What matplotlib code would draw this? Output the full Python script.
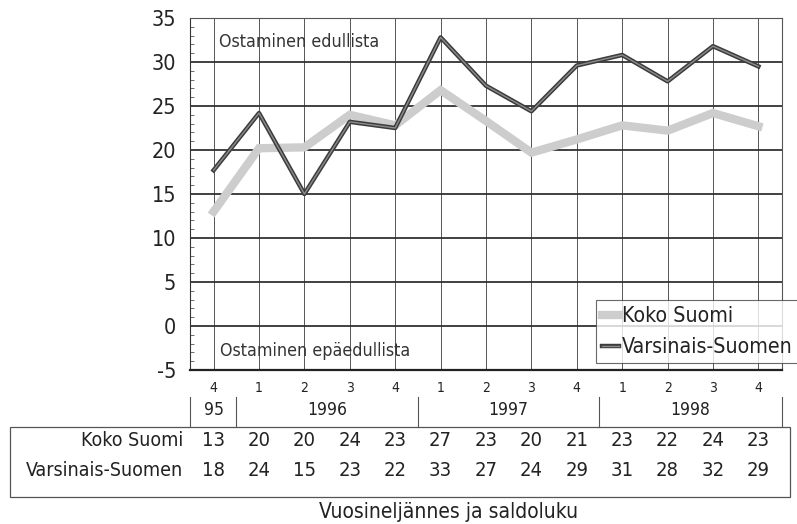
import matplotlib
matplotlib.use("Agg")
import matplotlib.pyplot as plt
import matplotlib.patheffects as pe
from matplotlib.transforms import blended_transform_factory
from matplotlib.patches import Rectangle
from matplotlib.lines import Line2D

plt.rcParams['font.family'] = ['DejaVu Sans']
plt.rcParams['font.stretch'] = 'condensed'

quarters = ["4", "1", "2", "3", "4", "1", "2", "3", "4", "1", "2", "3", "4"]
years = ["95", "1996", "1997", "1998"]
year_spans = [(0, 0), (1, 4), (5, 8), (9, 12)]
koko_plot = [13.0, 20.2, 20.3, 24.0, 22.8, 26.8, 23.3, 19.7, 21.2, 22.8, 22.2, 24.2, 22.7]
vars_plot = [17.7, 24.2, 15.0, 23.2, 22.5, 32.8, 27.3, 24.4, 29.6, 30.8, 27.8, 31.8, 29.5]
koko_table = [13, 20, 20, 24, 23, 27, 23, 20, 21, 23, 22, 24, 23]
vars_table = [18, 24, 15, 23, 22, 33, 27, 24, 29, 31, 28, 32, 29]
series_names = ["Koko Suomi", "Varsinais-Suomen"]
yticks = [-5, 0, 5, 10, 15, 20, 25, 30, 35]

W, H = 797, 524
fig = plt.figure(figsize=(W / 100, H / 100), dpi=100)

def fx(px):
    return px / W

def fy(py):
    return 1 - py / H

ax = fig.add_axes([fx(190), fy(370), fx(782) - fx(190), fy(18) - fy(370)])
x = list(range(len(quarters)))
ax.set_xlim(-0.52, 12.52)
ax.set_ylim(-5, 35)

for xi in x:
    ax.axvline(xi, color='#555555', lw=0.7, zorder=1)
for yv in yticks:
    ax.axhline(yv, color='#333333', lw=1.3, zorder=1)

l1, = ax.plot(x, koko_plot, color='#cdcdcd', lw=6, solid_joinstyle='miter', zorder=3,
              label=series_names[0])
l2, = ax.plot(x, vars_plot, color='#8c8c8c', lw=1.0, zorder=4, label=series_names[1],
              path_effects=[pe.Stroke(linewidth=3.2, foreground='#3c3c3c'), pe.Normal()])

ax.set_yticks(yticks)
ax.set_yticklabels([str(v) for v in yticks], fontsize=15.5)
ax.set_yticks(range(-5, 36), minor=True)
ax.tick_params(axis='y', which='major', length=0, pad=10, colors='#222222')
ax.tick_params(axis='y', which='minor', length=3, direction='in', color='#555555')
ax.set_xticks([])
for s in ['top', 'right']:
    ax.spines[s].set_color('#555555')
    ax.spines[s].set_linewidth(0.8)
ax.spines['left'].set_color('#333333')
ax.spines['bottom'].set_color('#222222')
ax.spines['bottom'].set_linewidth(1.6)

ax.text(0.12, 32.3, "Ostaminen edullista", fontsize=12.8, color='#333333',
        ha='left', va='center', zorder=5)
ax.text(0.15, -2.8, "Ostaminen epäedullista", fontsize=12.8, color='#333333',
        ha='left', va='center', zorder=5)

leg = fig.legend(handles=[l1, l2], loc='upper left', bbox_to_anchor=(fx(596), fy(300)),
                 frameon=True, fancybox=False, fontsize=15.3, handlelength=0.8,
                 handletextpad=0.1, borderpad=0.3, labelspacing=0.5, borderaxespad=0)
leg.get_frame().set_edgecolor('#444444')
leg.get_frame().set_linewidth(0.8)
for t in leg.get_texts():
    t.set_color('#222222')

tr = blended_transform_factory(ax.transData, fig.transFigure)
for xi, q in zip(x, quarters):
    ax.text(xi, fy(388), q, transform=tr, ha='center', va='center', fontsize=10, color='#222222')
for (a, b), yl in zip(year_spans, years):
    ax.text((a + b) / 2, fy(410), yl, transform=tr, ha='center', va='center', fontsize=12.5, color='#222222')
seps = [-0.52, 0.5, 4.5, 8.5, 12.52]
for s in seps:
    fig.add_artist(Line2D([s, s], [fy(397), fy(427)], transform=tr, color='#555555', lw=0.8))

fig.add_artist(Rectangle((fx(10), fy(497)), fx(790) - fx(10), fy(427) - fy(497),
                         transform=fig.transFigure, fill=False, edgecolor='#555555', lw=0.9))
fig.text(fx(183), fy(441), series_names[0], ha='right', va='center', fontsize=14, color='#222222')
fig.text(fx(183), fy(471), series_names[1], ha='right', va='center', fontsize=14, color='#222222')
for xi, k, v in zip(x, koko_table, vars_table):
    ax.text(xi, fy(441), str(k), transform=tr, ha='center', va='center', fontsize=14.5, color='#222222')
    ax.text(xi, fy(471), str(v), transform=tr, ha='center', va='center', fontsize=14.5, color='#222222')

fig.text(fx(449), fy(512), "Vuosineljännes ja saldoluku", ha='center', va='center',
         fontsize=15, color='#222222')

fig.savefig("out.png", dpi=100, facecolor='white')
